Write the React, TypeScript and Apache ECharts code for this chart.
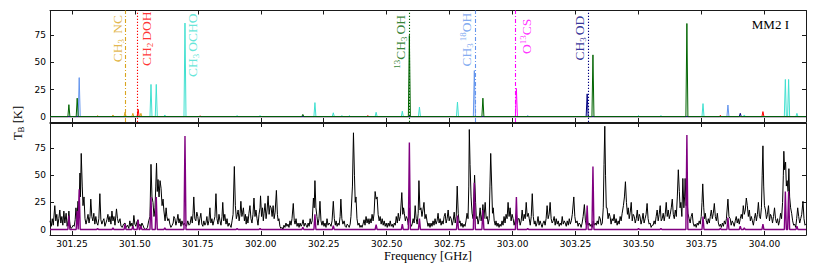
import React, { useEffect, useRef } from "react";
import * as echarts from "echarts";

// ---------- axes ----------
const X_MIN = 301.163;
const X_MAX = 304.165;
const Y_MIN = -5;
const Y_MAX = 98;
const X_TICKS = [301.25, 301.5, 301.75, 302.0, 302.25, 302.5, 302.75, 303.0, 303.25, 303.5, 303.75, 304.0];
const Y_TICKS = [0, 25, 50, 75];

// ---------- top panel: single-species models, peaks [GHz, K] ----------
const CH3NC_PEAKS: [number, number][] = [[301.352, 1], [301.413, 1.5], [301.461, 4], [301.492, 3], [301.524, 3]];
const CH2DOH_PEAKS: [number, number][] = [[301.513, 6.7], [301.759, 0.6], [302.425, 1], [303.825, 1.2], [303.994, 4.6]];
const CH3OCHO_PEAKS: [number, number][] = [
  [301.564, 29.7], [301.585, 29.7], [301.619, 1.5], [301.699, 86.4], [301.906, 1], [301.997, 1],
  [302.215, 12.9], [302.288, 3.5], [302.322, 1], [302.352, 1], [302.458, 4], [302.562, 5],
  [302.630, 8.8], [302.781, 13.4], [303.500, 1], [303.589, 1], [303.756, 12], [303.920, 1.5],
  [304.083, 34.3], [304.096, 34.3], [304.129, 3],
];
const C13H3OH_PEAKS: [number, number][] = [
  [301.238, 11], [301.271, 17], [302.167, 2], [302.590, 75], [302.882, 17], [303.319, 57], [303.692, 86],
];
const CH3O18H_PEAKS: [number, number][] = [[301.279, 36], [302.848, 42.5], [303.060, 1], [303.855, 10.7]];
const O13CS_PEAKS: [number, number][] = [[303.015, 26]];
const CH3OD_PEAKS: [number, number][] = [[303.296, 21], [303.904, 3]];

// ---------- bottom panel: total model peaks ----------
const MODEL_PEAKS: [number, number][] = [
  [301.238, 13], [301.271, 17], [301.279, 37], [301.352, 1], [301.413, 1.5], [301.461, 5], [301.492, 3],
  [301.513, 9], [301.524, 3], [301.564, 30], [301.585, 30], [301.619, 1.5], [301.699, 86], [301.906, 1],
  [301.997, 1], [302.167, 2], [302.215, 14], [302.288, 3.5], [302.458, 4.6], [302.562, 5], [302.590, 80],
  [302.630, 10], [302.781, 13], [302.848, 43], [302.882, 18], [303.015, 30], [303.060, 1], [303.296, 22],
  [303.319, 58], [303.500, 1], [303.589, 1], [303.692, 87], [303.756, 12], [303.825, 1.2], [303.855, 11],
  [303.904, 3], [303.920, 1.5], [303.994, 5], [304.083, 35], [304.096, 35], [304.129, 3],
];

// ---------- bottom panel: observed spectrum [GHz, K] ----------
const OBSERVED: [number, number][] = [
[301.163,8],[301.168,3],[301.172,10],[301.176,4],[301.182,22],[301.186,8],[301.190,14],[301.194,3],[301.198,10],[301.202,18],[301.206,6],[301.210,12],[301.214,4],[301.218,17],[301.222,6],[301.227,15],[301.231,3],[301.235,8],[301.238,17],[301.242,5],[301.246,1],[301.251,2],[301.255,4],[301.259,3],[301.263,9],[301.266,20],[301.270,10],[301.274,26],[301.278,18],[301.282,52],[301.284,30],[301.287,70],[301.291,40],[301.294,22],[301.298,30],[301.302,10],[301.306,5],[301.310,9],[301.314,14],[301.318,6],[301.322,12],[301.325,28],[301.329,12],[301.333,8],[301.337,15],[301.341,5],[301.345,12],[301.349,6],[301.353,4],[301.357,10],[301.361,33],[301.365,9],[301.369,5],[301.373,8],[301.377,10],[301.381,3],[301.385,6],[301.389,9],[301.393,14],[301.397,7],[301.401,12],[301.405,5],[301.409,17],[301.413,8],[301.417,12],[301.421,4],[301.427,19],[301.431,10],[301.435,6],[301.441,10],[301.445,3],[301.450,2],[301.455,5],[301.461,6],[301.466,2],[301.471,4],[301.476,1],[301.480,8],[301.484,3],[301.488,6],[301.492,2],[301.496,13],[301.500,5],[301.504,3],[301.508,7],[301.512,9],[301.516,3],[301.520,5],[301.524,2],[301.528,6],[301.532,4],[301.537,1],[301.544,0],[301.550,2],[301.555,8],[301.560,12],[301.564,60],[301.568,30],[301.572,25],[301.576,12],[301.580,20],[301.583,40],[301.586,61],[301.589,35],[301.592,46],[301.596,30],[301.600,45],[301.604,38],[301.608,22],[301.612,28],[301.615,18],[301.620,8],[301.624,20],[301.627,12],[301.631,8],[301.635,10],[301.639,5],[301.643,2],[301.648,4],[301.652,6],[301.655,12],[301.659,10],[301.663,4],[301.667,8],[301.671,14],[301.675,6],[301.679,10],[301.683,3],[301.687,8],[301.692,4],[301.696,6],[301.700,4],[301.705,3],[301.710,8],[301.715,4],[301.719,5],[301.724,12],[301.728,6],[301.731,15],[301.734,30],[301.738,10],[301.742,8],[301.746,16],[301.750,12],[301.754,4],[301.758,10],[301.762,15],[301.766,5],[301.770,3],[301.774,8],[301.778,4],[301.782,6],[301.786,12],[301.790,4],[301.794,8],[301.798,20],[301.802,6],[301.806,10],[301.810,4],[301.814,8],[301.818,12],[301.822,33],[301.826,10],[301.830,5],[301.834,14],[301.838,8],[301.842,4],[301.846,12],[301.849,25],[301.853,8],[301.857,14],[301.862,5],[301.866,10],[301.870,3],[301.874,6],[301.878,4],[301.882,2],[301.886,8],[301.890,14],[301.895,58],[301.899,22],[301.903,10],[301.907,14],[301.910,18],[301.914,8],[301.918,15],[301.921,26],[301.925,12],[301.928,16],[301.931,20],[301.935,8],[301.939,14],[301.942,5],[301.945,12],[301.949,6],[301.953,15],[301.957,22],[301.961,10],[301.965,6],[301.969,14],[301.973,29],[301.977,12],[301.981,18],[301.985,10],[301.989,4],[301.993,14],[301.997,20],[301.999,31],[302.003,12],[302.007,20],[302.010,8],[302.013,15],[302.017,24],[302.021,10],[302.025,18],[302.029,31],[302.033,14],[302.037,22],[302.041,20],[302.045,12],[302.049,22],[302.053,10],[302.057,16],[302.062,36],[302.066,14],[302.069,8],[302.072,10],[302.076,3],[302.080,1],[302.084,2],[302.088,0],[302.092,4],[302.096,2],[302.100,6],[302.104,3],[302.108,5],[302.112,2],[302.116,8],[302.120,4],[302.124,10],[302.129,24],[302.133,8],[302.136,5],[302.140,10],[302.144,3],[302.148,6],[302.152,2],[302.156,6],[302.160,3],[302.164,5],[302.168,9],[302.172,3],[302.176,6],[302.180,4],[302.184,2],[302.188,6],[302.192,3],[302.196,10],[302.200,5],[302.204,8],[302.209,29],[302.212,20],[302.215,45],[302.219,20],[302.223,12],[302.227,4],[302.231,10],[302.235,26],[302.239,8],[302.243,4],[302.247,8],[302.251,3],[302.255,6],[302.259,2],[302.263,10],[302.267,4],[302.271,6],[302.275,5],[302.279,3],[302.283,8],[302.288,26],[302.292,10],[302.296,4],[302.299,8],[302.303,3],[302.307,6],[302.311,4],[302.315,12],[302.318,28],[302.322,10],[302.326,5],[302.331,8],[302.335,3],[302.339,2],[302.343,5],[302.347,4],[302.351,2],[302.355,5],[302.358,12],[302.364,40],[302.368,89],[302.372,50],[302.375,25],[302.378,30],[302.382,10],[302.386,4],[302.390,6],[302.394,2],[302.398,4],[302.402,2],[302.406,5],[302.410,9],[302.414,4],[302.418,12],[302.422,6],[302.426,10],[302.430,5],[302.434,10],[302.438,6],[302.442,14],[302.446,8],[302.450,15],[302.454,35],[302.458,28],[302.462,30],[302.466,14],[302.470,8],[302.474,12],[302.478,5],[302.482,10],[302.486,4],[302.490,8],[302.494,3],[302.498,6],[302.502,2],[302.506,6],[302.510,3],[302.514,8],[302.518,3],[302.522,5],[302.526,2],[302.530,6],[302.534,4],[302.538,12],[302.542,6],[302.546,15],[302.550,8],[302.554,12],[302.560,34],[302.564,14],[302.567,20],[302.570,15],[302.574,8],[302.578,12],[302.582,10],[302.586,4],[302.590,20],[302.594,6],[302.598,3],[302.601,5],[302.605,10],[302.609,6],[302.613,22],[302.617,10],[302.621,5],[302.625,15],[302.628,45],[302.632,18],[302.636,20],[302.640,12],[302.644,18],[302.648,25],[302.652,10],[302.656,14],[302.660,8],[302.664,3],[302.668,6],[302.672,2],[302.676,6],[302.680,3],[302.684,8],[302.688,4],[302.692,10],[302.696,5],[302.700,8],[302.704,15],[302.708,6],[302.712,10],[302.716,4],[302.720,8],[302.724,5],[302.728,12],[302.732,15],[302.736,6],[302.740,10],[302.744,18],[302.748,8],[302.752,12],[302.756,10],[302.760,4],[302.764,8],[302.768,16],[302.772,6],[302.776,12],[302.780,40],[302.784,15],[302.788,6],[302.791,8],[302.795,3],[302.799,6],[302.803,2],[302.807,5],[302.811,3],[302.815,8],[302.819,15],[302.823,10],[302.826,40],[302.828,92],[302.831,60],[302.835,30],[302.839,15],[302.843,10],[302.846,30],[302.849,50],[302.853,25],[302.856,10],[302.859,12],[302.863,5],[302.867,10],[302.871,20],[302.875,8],[302.879,14],[302.882,23],[302.886,10],[302.891,25],[302.895,10],[302.899,12],[302.903,5],[302.907,10],[302.910,40],[302.913,70],[302.917,40],[302.920,15],[302.923,20],[302.927,8],[302.931,4],[302.934,8],[302.938,3],[302.942,6],[302.946,2],[302.950,5],[302.954,3],[302.958,8],[302.962,4],[302.966,12],[302.970,6],[302.974,14],[302.978,10],[302.982,25],[302.986,12],[302.990,20],[302.994,8],[302.998,14],[303.002,10],[303.006,4],[303.010,8],[303.015,15],[303.019,5],[303.022,10],[303.026,10],[303.030,4],[303.034,8],[303.038,18],[303.042,8],[303.046,14],[303.050,10],[303.054,25],[303.058,12],[303.062,15],[303.066,10],[303.070,4],[303.074,12],[303.078,33],[303.082,12],[303.086,5],[303.089,8],[303.093,3],[303.097,6],[303.101,12],[303.105,4],[303.109,8],[303.113,5],[303.117,2],[303.121,6],[303.125,8],[303.129,4],[303.133,10],[303.137,22],[303.141,10],[303.145,14],[303.149,25],[303.153,10],[303.157,6],[303.161,8],[303.165,12],[303.169,4],[303.173,10],[303.177,5],[303.181,8],[303.185,3],[303.189,6],[303.193,4],[303.197,12],[303.201,5],[303.205,8],[303.209,6],[303.213,3],[303.217,8],[303.221,4],[303.225,10],[303.229,5],[303.233,8],[303.237,14],[303.243,30],[303.247,12],[303.251,6],[303.256,8],[303.260,3],[303.264,6],[303.268,5],[303.272,2],[303.276,6],[303.280,12],[303.285,23],[303.289,8],[303.293,4],[303.296,10],[303.300,4],[303.304,6],[303.308,3],[303.312,5],[303.316,2],[303.320,8],[303.324,4],[303.328,6],[303.332,4],[303.336,8],[303.340,5],[303.344,12],[303.348,10],[303.352,4],[303.356,6],[303.360,20],[303.363,60],[303.366,95],[303.369,50],[303.372,20],[303.375,20],[303.379,10],[303.383,15],[303.387,12],[303.391,5],[303.395,10],[303.399,8],[303.403,14],[303.407,6],[303.411,10],[303.415,4],[303.419,8],[303.423,5],[303.427,12],[303.431,8],[303.435,15],[303.440,22],[303.444,30],[303.448,44],[303.452,25],[303.456,14],[303.459,20],[303.463,10],[303.467,16],[303.471,25],[303.475,8],[303.479,14],[303.483,12],[303.487,6],[303.491,10],[303.495,18],[303.499,8],[303.503,14],[303.506,12],[303.510,5],[303.514,9],[303.518,15],[303.522,6],[303.526,10],[303.530,14],[303.534,24],[303.538,10],[303.542,5],[303.546,6],[303.550,2],[303.554,4],[303.558,4],[303.562,8],[303.566,5],[303.570,12],[303.574,18],[303.578,8],[303.582,14],[303.586,22],[303.590,8],[303.594,10],[303.598,15],[303.602,8],[303.606,14],[303.610,25],[303.614,12],[303.618,18],[303.622,10],[303.626,14],[303.630,20],[303.634,28],[303.638,14],[303.642,10],[303.646,18],[303.650,12],[303.654,30],[303.658,55],[303.662,35],[303.665,20],[303.668,25],[303.672,12],[303.676,47],[303.680,20],[303.683,30],[303.685,47],[303.689,22],[303.692,30],[303.696,15],[303.701,10],[303.705,6],[303.709,12],[303.713,15],[303.717,6],[303.721,3],[303.725,5],[303.729,2],[303.733,6],[303.737,4],[303.741,8],[303.745,5],[303.749,12],[303.752,25],[303.755,42],[303.759,20],[303.762,10],[303.765,15],[303.769,8],[303.773,5],[303.777,10],[303.781,6],[303.785,12],[303.789,18],[303.793,10],[303.797,15],[303.801,24],[303.805,12],[303.809,8],[303.813,15],[303.817,6],[303.821,3],[303.825,5],[303.829,2],[303.833,6],[303.837,3],[303.841,8],[303.845,5],[303.849,10],[303.855,28],[303.859,12],[303.864,10],[303.868,4],[303.872,8],[303.876,6],[303.880,3],[303.884,8],[303.888,12],[303.892,6],[303.896,10],[303.900,5],[303.904,10],[303.908,14],[303.912,10],[303.916,22],[303.920,14],[303.924,18],[303.928,29],[303.932,22],[303.936,12],[303.940,18],[303.944,8],[303.948,12],[303.952,8],[303.956,4],[303.960,10],[303.964,15],[303.968,8],[303.972,14],[303.976,25],[303.980,12],[303.984,10],[303.988,20],[303.991,50],[303.994,77],[303.997,40],[304.000,22],[304.004,18],[304.008,10],[304.012,14],[304.016,22],[304.020,8],[304.024,14],[304.028,12],[304.032,6],[304.036,12],[304.040,20],[304.044,10],[304.048,6],[304.052,10],[304.056,4],[304.060,8],[304.064,15],[304.068,10],[304.072,25],[304.075,50],[304.077,72],[304.080,55],[304.084,62],[304.087,40],[304.090,45],[304.094,35],[304.097,56],[304.100,30],[304.104,20],[304.108,15],[304.112,8],[304.116,4],[304.120,5],[304.124,2],[304.128,10],[304.132,20],[304.136,12],[304.140,6],[304.144,10],[304.148,14],[304.153,26],[304.157,10],[304.161,4],[304.165,5]
];

// ---------- species identification ----------
const SPECIES_NAMES = ["CH3NC", "CH2DOH", "CH3OCHO", "13CH3OH", "CH3-18OH", "O13CS", "CH3OD"];
const SPECIES_LABELS = [
  "{n|CH}{s|3}{n| NC}",
  "{n|CH}{s|2}{n|DOH}",
  "{n|CH}{s|3}{n|OCHO}",
  "{p|13}{n|CH}{s|3}{n|OH}",
  "{n|CH}{s|3}{p|18}{n|OH}",
  "{n|O}{p|13}{n|CS}",
  "{n|CH}{s|3}{n|OD}",
];
// frequency of each identified line (GHz); null = no marker line
const SPECIES_LINE_FREQ: (number | null)[] = [301.462, 301.513, null, 302.590, 302.848, 303.014, 303.297];
// label anchor (GHz, K)
const SPECIES_LABEL_FREQ = [301.462, 301.513, 301.699, 302.590, 302.848, 303.014, 303.297];
const SPECIES_LABEL_Y = [72, 72, 66, 69, 71, 74, 72.5];
const SPECIES_PEAKS = [CH3NC_PEAKS, CH2DOH_PEAKS, CH3OCHO_PEAKS, C13H3OH_PEAKS, CH3O18H_PEAKS, O13CS_PEAKS, CH3OD_PEAKS];

// ---------- styles ----------
const SPECIES_COLORS = ["#DAA520", "#FF0000", "#40E0D0", "#006400", "#6495ED", "#FF00FF", "#000080"];
const SPECIES_DASH: number[][] = [[4, 2, 1, 2], [1.2, 1.8], [1, 2], [1.2, 1.8], [4, 2, 1, 2], [4, 2, 1, 2], [1.2, 1.8]];
const LABEL_DX = [-8, 8.5, 8, -9, -8, 10, -8];
const DRAW_ORDER = [0, 1, 2, 4, 5, 6, 3];
const PEAK_HALF = 0.004;
const FRAME = "#1a1a1a";
const SERIF = "Liberation Serif";
const SANS = "DejaVu Sans";

function peakTrace(peaks: [number, number][]) {
  const sorted = [...peaks].sort((a, b) => a[0] - b[0]);
  const pts: [number, number][] = [[X_MIN, 0]];
  sorted.forEach(([f, h]) => {
    pts.push([f - PEAK_HALF, 0], [f, h], [f + PEAK_HALF, 0]);
  });
  pts.push([X_MAX, 0]);
  return pts;
}

function xAxis(grid: number, position: "top" | "bottom", labels: boolean, name?: string) {
  return {
    type: "value",
    gridIndex: grid,
    position,
    min: X_MIN,
    max: X_MAX,
    name: name || "",
    nameLocation: "middle",
    nameGap: 14,
    nameTextStyle: { fontFamily: SERIF, fontSize: 12.5, color: "#000", verticalAlign: "top" },
    axisLine: { show: true, onZero: false, lineStyle: { color: FRAME, width: 1 } },
    axisTick: { show: true, inside: true, length: 4, customValues: X_TICKS, lineStyle: { color: FRAME } },
    axisLabel: {
      show: labels,
      customValues: X_TICKS,
      formatter: (v: number) => v.toFixed(2),
      margin: 4,
      fontFamily: SANS,
      fontSize: 9,
      color: "#000",
    },
    splitLine: { show: false },
  };
}

function yAxis(grid: number, position: "left" | "right", labels: boolean) {
  return {
    type: "value",
    gridIndex: grid,
    position,
    min: Y_MIN,
    max: Y_MAX,
    axisLine: { show: true, onZero: false, lineStyle: { color: FRAME, width: 1 } },
    axisTick: { show: true, inside: true, length: 4, customValues: Y_TICKS, lineStyle: { color: FRAME } },
    axisLabel: {
      show: labels,
      customValues: Y_TICKS,
      formatter: (v: number) => String(Math.round(v)),
      margin: 4,
      fontFamily: SANS,
      fontSize: 9,
      color: "#000",
    },
    splitLine: { show: false },
  };
}

const RICH = {
  n: { fontFamily: SERIF, fontSize: 13.5, lineHeight: 16 },
  s: { fontFamily: SERIF, fontSize: 9, lineHeight: 8, verticalAlign: "bottom", padding: [0, 2, 0, 0] },
  p: { fontFamily: SERIF, fontSize: 9, lineHeight: 8, verticalAlign: "top" },
};

function buildOption() {
  const series: any[] = [];
  DRAW_ORDER.forEach((i) => {
    series.push({
      name: SPECIES_NAMES[i],
      type: "line",
      xAxisIndex: 0,
      yAxisIndex: 0,
      showSymbol: false,
      symbol: "none",
      silent: true,
      lineStyle: { color: SPECIES_COLORS[i], width: 1 },
      data: peakTrace(SPECIES_PEAKS[i]),
      z: 3,
    });
  });
  series.push({
    name: "labels",
    type: "scatter",
    xAxisIndex: 0,
    yAxisIndex: 0,
    symbolSize: 1,
    silent: true,
    itemStyle: { color: "rgba(0,0,0,0)" },
    z: 5,
    label: {
      show: true,
      position: "inside",
      rotate: 90,
      align: "center",
      verticalAlign: "middle",
      fontFamily: SERIF,
      fontSize: 13.5,
      lineHeight: 16,
      rich: RICH,
    },
    data: SPECIES_NAMES.map((_, i) => ({
      value: [SPECIES_LABEL_FREQ[i], SPECIES_LABEL_Y[i]],
      label: { formatter: SPECIES_LABELS[i], color: SPECIES_COLORS[i], offset: [0, LABEL_DX[i]] },
    })),
    markLine: {
      silent: true,
      symbol: ["none", "none"],
      label: { show: false },
      animation: false,
      data: SPECIES_LINE_FREQ.map((f, i) => ({ f, i }))
        .filter((d) => d.f !== null)
        .map((d) => ({
          xAxis: d.f,
          lineStyle: { color: SPECIES_COLORS[d.i], type: SPECIES_DASH[d.i], width: 1.1 },
        })),
    },
  });
  series.push({
    name: "observed",
    type: "line",
    xAxisIndex: 2,
    yAxisIndex: 2,
    showSymbol: false,
    symbol: "none",
    silent: true,
    lineStyle: { color: "#000", width: 1 },
    data: OBSERVED,
    z: 3,
  });
  series.push({
    name: "model",
    type: "line",
    xAxisIndex: 2,
    yAxisIndex: 2,
    showSymbol: false,
    symbol: "none",
    silent: true,
    lineStyle: { color: "#800080", width: 1.4 },
    data: peakTrace(MODEL_PEAKS),
    z: 4,
  });

  return {
    animation: false,
    backgroundColor: "#fff",
    grid: [
      { left: 50, top: 10.5, width: 756, height: 111.5 },
      { left: 50, top: 123, width: 756, height: 112 },
    ],
    xAxis: [
      xAxis(0, "bottom", false),
      xAxis(0, "top", false),
      xAxis(1, "bottom", true, "Frequency [GHz]"),
      xAxis(1, "top", false),
    ],
    yAxis: [yAxis(0, "left", true), yAxis(0, "right", false), yAxis(1, "left", true), yAxis(1, "right", false)],
    graphic: [
      {
        type: "text",
        x: 18,
        y: 123,
        rotation: Math.PI / 2,
        silent: true,
        style: {
          text: "{n|T}{b|B}{n| [K]}",
          align: "center",
          verticalAlign: "middle",
          fill: "#000",
          rich: {
            n: { fontFamily: SERIF, fontSize: 12.5, lineHeight: 15, fill: "#000" },
            b: { fontFamily: SERIF, fontSize: 9, lineHeight: 8, verticalAlign: "bottom", fill: "#000" },
          },
        },
      },
      {
        type: "text",
        x: 789,
        y: 24,
        silent: true,
        style: {
          text: "MM2 I",
          align: "right",
          verticalAlign: "middle",
          fontFamily: SERIF,
          fontSize: 13,
          fill: "#000",
        },
      },
    ],
    series,
  };
}

export default function App() {
  const ref = useRef<HTMLDivElement>(null);
  useEffect(() => {
    if (!ref.current) return;
    const chart = echarts.init(ref.current, undefined, { renderer: "svg" });
    chart.setOption(buildOption() as any);
    return () => chart.dispose();
  }, []);
  return (
    <div
      ref={ref}
      style={{ position: "fixed", left: 0, top: 0, width: 831, height: 267, background: "#fff" }}
    />
  );
}
